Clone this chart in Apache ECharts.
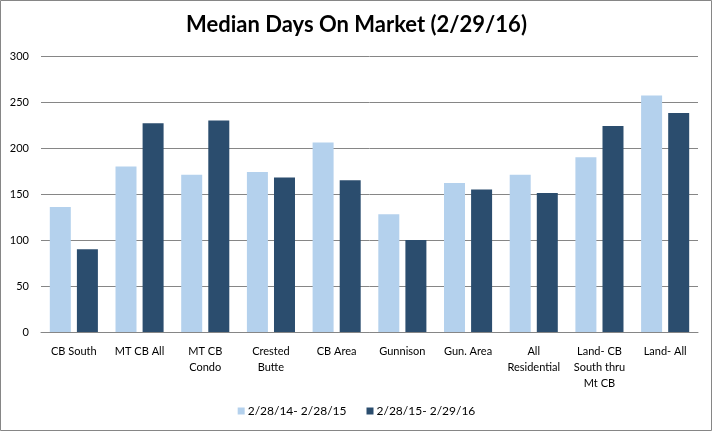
<!DOCTYPE html>
<html><head><meta charset="utf-8">
<script src="https://cdn.jsdelivr.net/npm/echarts@6/dist/echarts.min.js"></script>
<style>html,body{margin:0;padding:0;background:#fff}#c{width:713px;height:432px}</style>
</head><body><div id="c"></div>
<script>
const categories = ["CB South","MT CB All","MT CB\nCondo","Crested\nButte","CB Area","Gunnison","Gun. Area","All\nResidential","Land- CB\nSouth thru\nMt CB","Land- All"];
const seriesNames = ["2/28/14- 2/28/15","2/28/15- 2/29/16"];
const values1 = [136,180,171,174,206,128,162,171,190,257];
const values2 = [90,227,230,168,165,100,155,151,224,238];
const yTicks = [0,50,100,150,200,250,300];

const chart = echarts.init(document.getElementById('c'));
const font = 'Lato, "Open Sans", sans-serif';
chart.setOption({
  animation:false,
  title:{text:'Median Days On Market (2/29/16)',left:'center',top:9,
    textStyle:{fontFamily:font,fontSize:22,fontWeight:'bold',color:'#000'}},
  graphic:[{type:'rect',shape:{x:0.5,y:0.5,width:711,height:430},style:{fill:'none',stroke:'#868686',lineWidth:1},silent:true}],
  legend:{data:seriesNames,bottom:10,left:'center',itemWidth:7,itemHeight:7,itemGap:20,icon:'rect',
    textStyle:{fontFamily:font,fontSize:12,color:'#000',padding:[0,0,0,-2]}},
  grid:{left:41,right:15,top:56,bottom:100},
  xAxis:{type:'category',data:categories,
    axisLine:{lineStyle:{color:'#868686',width:1}},axisTick:{show:false},
    axisLabel:{fontFamily:font,fontSize:11,color:'#000',lineHeight:16,margin:11,interval:0}},
  yAxis:{type:'value',min:yTicks[0],max:yTicks[yTicks.length-1],interval:50,
    axisLine:{show:false},axisTick:{show:false},
    splitLine:{lineStyle:{color:'#868686',width:1}},
    axisLabel:{fontFamily:font,fontSize:11,color:'#000',margin:12}},
  series:[
    {name:seriesNames[0],type:'bar',data:values1,barWidth:21,barGap:'29%',itemStyle:{color:'#B4D1ED'}},
    {name:seriesNames[1],type:'bar',data:values2,barWidth:21,itemStyle:{color:'#2B4D6E'}}
  ]
});
</script></body></html>
